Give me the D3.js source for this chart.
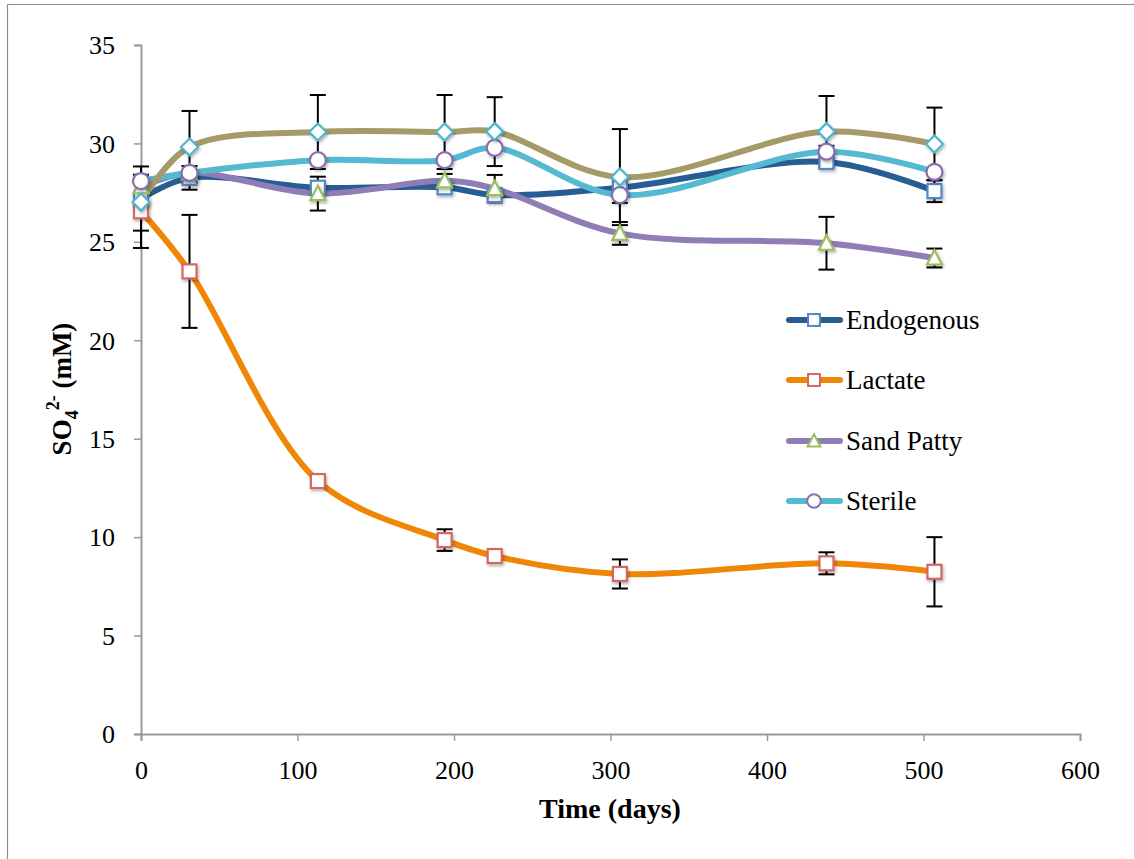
<!DOCTYPE html>
<html>
<head>
<meta charset="utf-8">
<script src="https://cdn.jsdelivr.net/npm/d3@7"></script>
<style>
  html, body { margin: 0; padding: 0; background: #fff; }
  svg { display: block; }
  text { font-family: "Liberation Serif", "DejaVu Serif", serif; fill: #000; }
</style>
</head>
<body>
<svg id="chart" width="1134" height="859"></svg>
<script>
// Sampling times (days)
const days = [0, 31, 113, 194, 226, 306, 438, 507];

// Sulfate concentration (mM) per treatment
const endogenous = [27.2, 28.25, 27.75, 27.77, 27.38, 27.75, 29.06, 27.58];
const lactate    = [26.55, 23.5, 12.85, 9.85, 9.04, 8.13, 8.67, 8.24];
const sandPatty  = [27.8, 28.5, 27.45, 28.1, 27.7, 25.43, 24.93, 24.18];
const sterile    = [28.09, 28.5, 29.15, 29.15, 29.78, 27.38, 29.58, 28.55];
const series5    = [27.02, 29.82, 30.58, 30.58, 30.6, 28.29, 30.6, 29.97];

// Error bar half-widths (mM); 0 = no bar shown
const endogenousErr = [1.63, 0.6, 0, 0, 0, 0, 0, 0.56];
const lactateErr    = [1.86, 2.87, 0, 0.55, 0, 0.74, 0.56, 1.76];
const sandPattyErr  = [0, 0, 0.86, 0.35, 0.7, 0.58, 1.34, 0.48];
const sterileErr    = [0, 0, 0, 0, 0, 0.4, 0.3, 0];
const series5Err    = [0, 1.83, 1.88, 1.88, 1.75, 2.44, 1.81, 1.85];

// Axis ticks
const xTicks = [0, 100, 200, 300, 400, 500, 600];
const yTicks = [0, 5, 10, 15, 20, 25, 30, 35];

const seriesList = [
  { name: "Endogenous", values: endogenous, err: endogenousErr, line: "#275D92", mark: "#5387C6", shape: "square", legend: true },
  { name: "Lactate",    values: lactate,    err: lactateErr,    line: "#F08605", mark: "#D66660", shape: "square", legend: true },
  { name: "Sand Patty", values: sandPatty,  err: sandPattyErr,  line: "#907DB6", mark: "#9DBE5C", shape: "triangle", legend: true },
  { name: "Sterile",    values: sterile,    err: sterileErr,    line: "#55B9D1", mark: "#8A6DAE", shape: "circle", legend: true },
  { name: "Series 5",   values: series5,    err: series5Err,    line: "#A69B68", mark: "#4FB4CE", shape: "diamond", legend: false }
];

const svg = d3.select("#chart");

// chart area frame
svg.append("line").attr("x1", 7.5).attr("x2", 7.5).attr("y1", 4.5).attr("y2", 859)
  .attr("stroke", "#8c8c8c").attr("stroke-width", 1.2);
svg.append("line").attr("x1", 7.5).attr("x2", 1134).attr("y1", 4.5).attr("y2", 4.5)
  .attr("stroke", "#8c8c8c").attr("stroke-width", 1.2);

const x = d3.scaleLinear().domain([0, 600]).range([141, 1080]);
const y = d3.scaleLinear().domain([0, 35]).range([734, 45]);

const defs = svg.append("defs");
const f = defs.append("filter").attr("id", "shadow").attr("x", "-50%").attr("y", "-50%").attr("width", "200%").attr("height", "200%");
f.append("feDropShadow").attr("dx", 1.2).attr("dy", 2).attr("stdDeviation", 1.4)
  .attr("flood-color", "#000").attr("flood-opacity", 0.3);

// Y axis
const yAxis = svg.append("g").attr("transform", "translate(141,0)")
  .call(d3.axisLeft(y).tickValues(yTicks).tickSize(7).tickPadding(19).tickFormat(d3.format("d")));
yAxis.select(".domain").attr("stroke", "#9a9a9a").attr("stroke-width", 2);
yAxis.selectAll(".tick line").attr("stroke", "#9a9a9a").attr("stroke-width", 1.5);
yAxis.selectAll(".tick text").attr("font-size", 26).attr("font-family", "Liberation Serif").attr("fill", "#000").attr("dy", "0.34em");

// X axis
const xAxis = svg.append("g").attr("transform", "translate(0,734)")
  .call(d3.axisBottom(x).tickValues(xTicks).tickSize(7).tickPadding(20).tickFormat(d3.format("d")));
xAxis.select(".domain").attr("stroke", "#9a9a9a").attr("stroke-width", 2);
xAxis.selectAll(".tick line").attr("stroke", "#9a9a9a").attr("stroke-width", 1.5);
xAxis.selectAll(".tick text").attr("font-size", 26).attr("font-family", "Liberation Serif").attr("fill", "#000");

// Axis titles
svg.append("text").attr("x", 610).attr("y", 818).attr("text-anchor", "middle")
  .attr("font-size", 28).attr("font-weight", "bold").text("Time (days)");

const yt = svg.append("text").attr("transform", "translate(71,389) rotate(-90)")
  .attr("text-anchor", "middle").attr("font-size", 27).attr("font-weight", "bold");
yt.append("tspan").text("SO");
yt.append("tspan").attr("font-size", 18).attr("dy", 7).text("4");
yt.append("tspan").attr("font-size", 18).attr("dy", -19).text("2-");
yt.append("tspan").attr("dy", 12).text(" (mM)");

// Lines
const lineGen = d3.line().x(d => x(d[0])).y(d => y(d[1])).curve(d3.curveCatmullRom.alpha(0.5));
seriesList.forEach(s => {
  svg.append("path")
    .datum(days.map((d, i) => [d, s.values[i]]))
    .attr("d", lineGen)
    .attr("fill", "none")
    .attr("stroke", s.line)
    .attr("stroke-width", 6)
    .attr("stroke-linecap", "round")
    .attr("stroke-linejoin", "round");
});

// Error bars
const capW = 8;
seriesList.forEach(s => {
  const g = svg.append("g").attr("stroke", "#000").attr("stroke-width", 2);
  days.forEach((d, i) => {
    const e = s.err[i];
    if (!e) return;
    const cx = x(d), top = y(s.values[i] + e), bot = y(s.values[i] - e);
    g.append("line").attr("x1", cx).attr("x2", cx).attr("y1", top).attr("y2", bot);
    g.append("line").attr("x1", cx - capW).attr("x2", cx + capW).attr("y1", top).attr("y2", top);
    g.append("line").attr("x1", cx - capW).attr("x2", cx + capW).attr("y1", bot).attr("y2", bot);
  });
});

// Marker drawing
function drawMarker(g, shape, cx, cy, color, size) {
  const k = size || 1;
  let el;
  if (shape === "square") {
    const h = 7 * k;
    el = g.append("rect").attr("x", cx - h).attr("y", cy - h).attr("width", 2 * h).attr("height", 2 * h);
  } else if (shape === "circle") {
    el = g.append("circle").attr("cx", cx).attr("cy", cy).attr("r", 8 * k);
  } else if (shape === "triangle") {
    const w = 7.5 * k;
    el = g.append("path").attr("d", `M${cx},${cy - 8 * k}L${cx + w},${cy + 6.5 * k}L${cx - w},${cy + 6.5 * k}Z`);
  } else {
    const r = 8.5 * k;
    el = g.append("path").attr("d", `M${cx},${cy - r}L${cx + r},${cy}L${cx},${cy + r}L${cx - r},${cy}Z`);
  }
  el.attr("fill", "#fff").attr("stroke", color).attr("stroke-width", 2.2).attr("stroke-linejoin", "miter");
  return el;
}

seriesList.forEach(s => {
  const g = svg.append("g").attr("filter", "url(#shadow)");
  days.forEach((d, i) => drawMarker(g, s.shape, x(d), y(s.values[i]), s.mark));
});

// Legend
const legendRows = [320, 380, 441, 501];
seriesList.filter(s => s.legend).forEach((s, i) => {
  const ly = legendRows[i];
  const g = svg.append("g");
  g.append("line").attr("x1", 789).attr("x2", 840).attr("y1", ly).attr("y2", ly)
    .attr("stroke", s.line).attr("stroke-width", 6).attr("stroke-linecap", "round");
  drawMarker(g, s.shape, 814, ly, s.mark, 0.85).attr("stroke-width", 2);
  g.append("text").attr("x", 846).attr("y", ly + 9).attr("font-size", 27).text(s.name);
});
</script>
</body>
</html>
